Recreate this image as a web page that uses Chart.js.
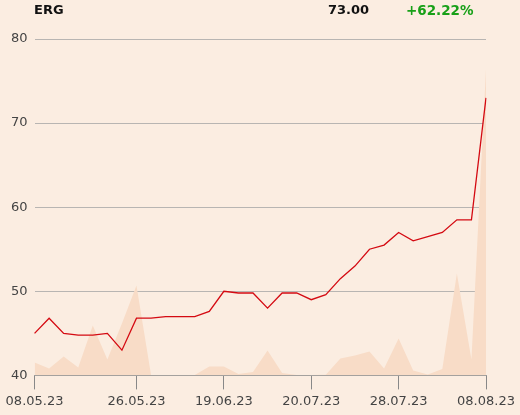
<!DOCTYPE html>
<html>
<head>
<meta charset="utf-8">
<script src="https://cdn.jsdelivr.net/npm/chart.js@4"></script>
<style>
  html, body { margin: 0; padding: 0; background: #fbede1; }
  #wrap { position: relative; width: 520px; height: 415px; }
  .hd { position: absolute; top: 2px; font: bold 13px "DejaVu Sans", sans-serif; color: #111; }
  canvas { position: absolute; left: 0; top: 0; }
</style>
</head>
<body>
<div id="wrap">
  <canvas id="chart" width="520" height="415"></canvas>
  <div class="hd" id="name" style="left:34px">ERG</div>
  <div class="hd" id="last" style="right:151px">73.00</div>
  <div class="hd" id="chg" style="left:406px;color:#18a018;font-size:13.5px">+62.22%</div>
</div>
<script>
// price series (close), one per trading point
const prices = [45.0, 46.8, 45.0, 44.8, 44.8, 45.0, 43.0, 46.8, 46.8, 47.0, 47.0, 47.0, 47.6, 50.0, 49.8, 49.8,
                48.0, 49.8, 49.8, 49.0, 49.6, 51.5, 53.0, 55.0, 55.5, 57.0, 56.0, 56.5, 57.0, 58.5, 58.5, 73.0];
// volume (relative units)
const volumes = [13, 7, 19, 8, 50, 16, 52, 90, 0.5, 0.5, 0.5, 0.5, 9, 9, 1.5, 3.5,
                 25, 2.5, 0.5, 0.5, 0.7, 17, 20, 24, 7, 37, 5, 1, 6.5, 102, 16, 307];
// x axis ticks
const tickPos = [0, 7, 13, 19, 25, 31];
const tickLabels = ['08.05.23', '26.05.23', '19.06.23', '20.07.23', '28.07.23', '08.08.23'];
const yTicks = [40, 50, 60, 70, 80];

const labels = prices.map((p, i) => i);

const ctx = document.getElementById('chart').getContext('2d');
new Chart(ctx, {
    type: 'line',
    data: {
        labels: labels,
        datasets: [{
            data: prices,
            borderColor: '#d40a12',
            borderWidth: 1.3,
            pointRadius: 0,
            tension: 0,
            yAxisID: 'y'
        }, {
            data: volumes,
            borderWidth: 0,
            backgroundColor: '#f8dcc7',
            fill: 'origin',
            pointRadius: 0,
            tension: 0,
            yAxisID: 'yVol'
        }]
    },
    options: {
        responsive: false,
        animation: false,
        layout: { padding: { left: 4, right: 34, top: 39, bottom: 2 } },
        plugins: { legend: { display: false }, tooltip: { enabled: false } },
        scales: {
            x: {
                type: 'category',
                offset: false,
                afterBuildTicks: (scale) => { scale.ticks = tickPos.map(v => ({ value: v })); },
                ticks: {
                    autoSkip: false,
                    maxRotation: 0,
                    color: '#444',
                    padding: 4,
                    font: { family: 'DejaVu Sans', size: 13 },
                    callback: (v) => tickLabels[tickPos.indexOf(v)]
                },
                grid: { drawOnChartArea: false, drawTicks: true, tickLength: 14, color: '#888' },
                border: { display: true, color: '#999' }
            },
            y: {
                min: 40, max: 80,
                afterBuildTicks: (scale) => { scale.ticks = yTicks.map(v => ({ value: v })); },
                ticks: {
                    color: '#444',
                    padding: 7,
                    font: { family: 'DejaVu Sans', size: 13 }
                },
                grid: { drawTicks: false, color: '#b8b5b2' },
                border: { display: false }
            },
            yVol: {
                display: false,
                min: 0, max: 337
            }
        }
    }
});
</script>
</body>
</html>
